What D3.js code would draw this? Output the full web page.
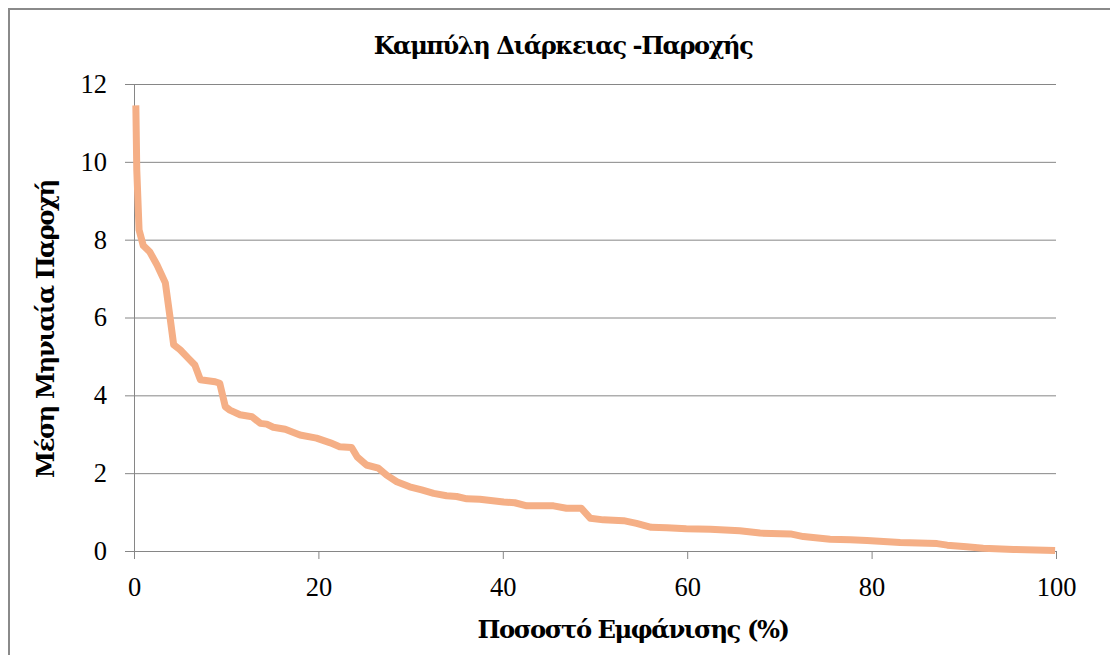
<!DOCTYPE html>
<html>
<head>
<meta charset="utf-8">
<script src="https://cdn.jsdelivr.net/npm/d3@7"></script>
<style>
  body { margin: 0; background: #fff; }
  text { font-family: "Liberation Serif", "DejaVu Serif", serif; fill: #000; }
  .greek { font-family: "DejaVu Serif", "Liberation Serif", serif; letter-spacing: -0.06em; }
</style>
</head>
<body>
<div id="graphicContainer"></div>
<script>

// percent of time exceeded (%)
const pct = [0.2, 0.3, 0.55, 1.0, 1.7, 2.5, 3.4, 3.9, 4.3, 5.0, 5.9, 6.6, 7.2, 8.8, 9.3, 9.9,
  10.4, 11.5, 12.8, 13.7, 14.4, 15.1, 16.4, 18.0, 19.8, 21.3, 22.3, 23.6, 24.2, 25.2, 26.5,
  27.4, 28.5, 29.9, 31.2, 32.5, 33.9, 35.0, 36.1, 37.5, 40.1, 41.3, 42.6, 45.5, 46.9, 48.5,
  49.5, 50.9, 53.1, 54.5, 56.1, 57.8, 59.9, 62.5, 65.7, 67.9, 71.2, 72.6, 75.5, 77.7, 79.5,
  83.1, 87.1, 88.2, 90.3, 92.1, 95.4, 99.9]

// mean monthly flow
const flow = [11.45, 9.8, 8.25, 7.85, 7.69, 7.35, 6.89, 6.02, 5.3, 5.17, 4.95, 4.78, 4.4, 4.35, 4.31, 3.71,
  3.62, 3.5, 3.45, 3.28, 3.26, 3.18, 3.13, 2.98, 2.9, 2.78, 2.68, 2.66, 2.42, 2.21, 2.13,
  1.95, 1.78, 1.65, 1.57, 1.48, 1.42, 1.40, 1.34, 1.33, 1.26, 1.24, 1.16, 1.16, 1.10, 1.10,
  0.84, 0.80, 0.78, 0.71, 0.61, 0.60, 0.57, 0.56, 0.52, 0.46, 0.44, 0.37, 0.30, 0.29, 0.27,
  0.22, 0.19, 0.15, 0.11, 0.07, 0.04, 0.01]

const xTicks = [0, 20, 40, 60, 80, 100]
const yTicks = [0, 2, 4, 6, 8, 10, 12]

const title = "Καμπύλη Διάρκειας -Παροχής"
const xTitle = "Ποσοστό Εμφάνισης (%)"
const yTitle = "Μέση Μηνιαία Παροχή"

const width = 1110
const height = 655
const margin = { top: 84, right: 54, bottom: 104, left: 134 }

const svg = d3.select("#graphicContainer").append("svg")
  .attr("width", width)
  .attr("height", height)

// outer chart frame (runs off the page to the right and bottom)
svg.append("rect")
  .attr("x", 9)
  .attr("y", 9)
  .attr("width", width + 20)
  .attr("height", height + 20)
  .attr("fill", "none")
  .attr("stroke", "#8a8a8a")
  .attr("stroke-width", 2)

const x = d3.scaleLinear()
  .domain([0, 100])
  .range([margin.left, width - margin.right])

const y = d3.scaleLinear()
  .domain([0, 12])
  .range([height - margin.bottom, margin.top])

// gridlines + y axis
const yAxis = g => g
  .attr("transform", `translate(${margin.left},0)`)
  .call(d3.axisLeft(y)
    .tickValues(yTicks)
    .tickSize(9)
    .tickPadding(18))
  .call(g => g.selectAll(".tick line").attr("stroke", "#868686"))
  .call(g => g.selectAll(".tick").append("line")
    .attr("x2", x(100) - margin.left)
    .attr("stroke", "#868686"))
  .call(g => g.select(".domain").attr("stroke", "#868686"))
  .call(g => g.selectAll(".tick text")
    .attr("font-size", 26.5))

const xAxis = g => g
  .attr("transform", `translate(0,${y(0)})`)
  .call(d3.axisBottom(x)
    .tickValues(xTicks)
    .tickSize(8)
    .tickPadding(18)
    .tickSizeOuter(0))
  .call(g => g.selectAll(".tick line").attr("stroke", "#868686"))
  .call(g => g.select(".domain").attr("stroke", "#868686"))
  .call(g => g.selectAll(".tick text")
    .attr("font-size", 26.5))

svg.append("g").call(yAxis)
svg.append("g").call(xAxis)

const line = d3.line()
  .x((d, i) => x(pct[i]))
  .y(d => y(d))

svg.append("path")
  .datum(flow)
  .attr("d", line)
  .attr("fill", "none")
  .attr("stroke", "#F5AF86")
  .attr("stroke-width", 7)
  .attr("stroke-linejoin", "round")

// bold titles, sized to the width they take in the original
function fitText(sel, target) {
  const w = sel.node().getBBox().width
  const fs = +sel.attr("font-size")
  sel.attr("font-size", fs * target / w)
}

const t1 = svg.append("text")
  .attr("class", "greek")
  .attr("x", 563)
  .attr("y", 54)
  .attr("text-anchor", "middle")
  .attr("font-weight", "bold")
  .attr("font-size", 20)
  .text(title)
fitText(t1, 380)

const t2 = svg.append("text")
  .attr("class", "greek")
  .attr("x", 633)
  .attr("y", 638)
  .attr("text-anchor", "middle")
  .attr("font-weight", "bold")
  .attr("font-size", 22)
  .text(xTitle)
fitText(t2, 311)

const t3 = svg.append("text")
  .attr("class", "greek")
  .attr("transform", `translate(54,329) rotate(-90)`)
  .attr("text-anchor", "middle")
  .attr("font-weight", "bold")
  .attr("font-size", 22)
  .text(yTitle)
fitText(t3, 298)

</script>
</body>
</html>
